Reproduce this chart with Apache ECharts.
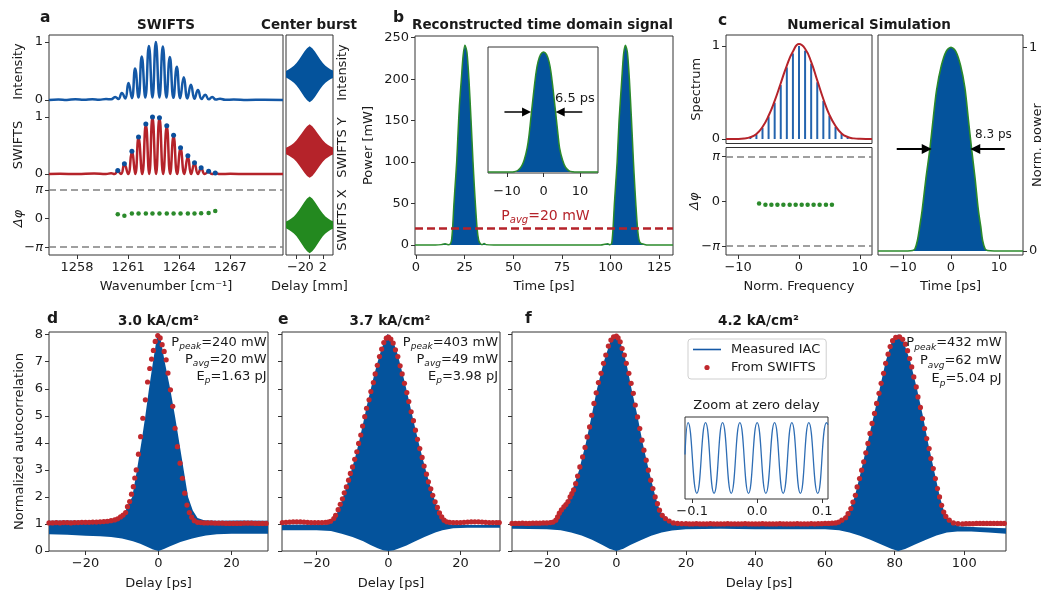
<!DOCTYPE html>
<html><head><meta charset="utf-8">
<script src="https://cdn.jsdelivr.net/npm/echarts@6/dist/echarts.min.js"></script>
<style>html,body{margin:0;padding:0;background:#fff}#c{width:1041px;height:591px}</style>
</head><body><div id="c"></div>
<script>
// ================= DATA =================
// Panel a : SWIFTS spectra (wavenumber cm^-1, normalized value)
const aIntensity = [[1256.35,0],[1256.9,0.006],[1257.4,0],[1257.9,0.01],[1258.4,0.002],[1258.9,0.012],[1259.3,0.003],[1259.7,0.015],[1260.0,0.01],[1260.24,0.05],[1260.43,0.015],[1260.63,0.12],[1260.83,0.025],[1261.02,0.29],[1261.22,0.03],[1261.41,0.54],[1261.61,0.04],[1261.80,0.75],[1262.01,0.04],[1262.22,0.93],[1262.43,0.04],[1262.63,1.0],[1262.84,0.04],[1263.04,0.92],[1263.25,0.04],[1263.45,0.74],[1263.66,0.035],[1263.86,0.57],[1264.06,0.03],[1264.27,0.39],[1264.48,0.025],[1264.69,0.26],[1264.90,0.02],[1265.10,0.17],[1265.32,0.015],[1265.53,0.09],[1265.74,0.01],[1265.94,0.05],[1266.15,0.005],[1266.4,0.02],[1266.7,0.003],[1267.2,0.006],[1268.0,0],[1269.0,0.004],[1270.1,0]];
const aSwifts = [[1256.35,0],[1257,0.005],[1258,0],[1259,0.01],[1259.7,0],[1260.0,0.015],[1260.2,0],[1260.39,0.05],[1260.58,0],[1260.78,0.17],[1261.0,0],[1261.22,0.39],[1261.42,0],[1261.61,0.64],[1261.83,0],[1262.04,0.87],[1262.24,0],[1262.43,1.0],[1262.64,0],[1262.84,0.99],[1263.06,0],[1263.27,0.84],[1263.47,0],[1263.67,0.67],[1263.88,0],[1264.08,0.45],[1264.3,0],[1264.51,0.31],[1264.7,0],[1264.90,0.19],[1265.1,0],[1265.29,0.10],[1265.5,0],[1265.73,0.04],[1265.92,0],[1266.12,0.015],[1266.4,0],[1267,0.005],[1268,0],[1270.1,0]];
const aSwiftsPeaks = [[1260.39,0.06],[1260.78,0.18],[1261.22,0.4],[1261.61,0.65],[1262.04,0.88],[1262.43,1.0],[1262.84,0.99],[1263.27,0.85],[1263.67,0.68],[1264.08,0.46],[1264.51,0.32],[1264.90,0.2],[1265.29,0.11],[1265.73,0.05],[1266.12,0.02]];
const aPhase = [[1260.39,0.46],[1260.78,0.29],[1261.22,0.54],[1261.61,0.54],[1262.04,0.54],[1262.43,0.54],[1262.84,0.54],[1263.27,0.54],[1263.67,0.54],[1264.08,0.54],[1264.51,0.54],[1264.90,0.55],[1265.29,0.57],[1265.73,0.61],[1266.12,0.82]];
const aWnTicks = [1258, 1261, 1264, 1267];
// Center burst envelope (delay mm, half amplitude)
const burstEnv = [[-3.6,0.12],[-3.2,0.17],[-2.8,0.23],[-2.4,0.3],[-2.0,0.4],[-1.6,0.53],[-1.2,0.67],[-0.8,0.81],[-0.4,0.93],[0,1.0],[0.4,0.93],[0.8,0.81],[1.2,0.67],[1.6,0.53],[2.0,0.4],[2.4,0.3],[2.8,0.23],[3.2,0.17],[3.55,0.13]];
const burstTicks = [-2, 0, 2];
const burstOuterLabels = [-2, 2];
const burstCenterLabel = [0];
// Panel b : reconstructed pulses (ps, mW)
const bPulse = [[-0.5,0],[10,0],[13,0.5],[15,1.5],[16.5,0.5],[17.5,1],[18.2,5],[18.8,20],[19.5,50],[20.2,75],[20.9,100],[21.6,135],[22.3,168],[23.3,200],[24.2,228],[25.2,241],[26.2,232],[27.2,200],[28.3,150],[29.3,100],[30.0,70],[30.5,50],[31.4,20],[32.2,6],[33,2],[34,0.5],[35,2],[36,0.5],[40,0],[95,0],[97,1],[98.5,1.5],[99.5,0.5],[100.5,2],[101.2,20],[101.9,50],[102.6,75],[103.3,100],[104.3,150],[105.7,200],[106.6,230],[107.6,241],[108.6,232],[109.6,200],[110.7,150],[111.7,100],[112.4,70],[112.9,50],[113.8,20],[114.6,6],[115.5,2],[117,1],[119,0],[132,0]];
const bAverage = 20;
const bInset = [[-15.2,0],[-9,0],[-8,0.003],[-7,0.015],[-6,0.05],[-5.3,0.1],[-4.5,0.2],[-4,0.3],[-3.3,0.5],[-2.5,0.72],[-2,0.84],[-1.5,0.92],[-0.8,0.98],[0,1.0],[0.8,0.98],[1.5,0.92],[2,0.84],[2.5,0.72],[3,0.58],[3.3,0.5],[4,0.3],[4.4,0.2],[5.2,0.1],[6,0.04],[7,0.01],[8,0.002],[9,0],[14.9,0]];
const bTimeTicks = [0, 25, 50, 75, 100, 125];
const bPowerTicks = [0, 50, 100, 150, 200, 250];
const insetTicks = [-10, 0, 10];
// Panel c : numerical simulation
const cSpectrum = [[-12,0],[-10,0.001],[-9,0.006],[-8,0.02],[-7,0.055],[-6,0.13],[-5,0.25],[-4,0.41],[-3,0.6],[-2,0.79],[-1,0.94],[0,1.02],[1,0.97],[2,0.83],[3,0.63],[4,0.43],[5,0.26],[6,0.14],[7,0.06],[8,0.022],[9,0.007],[10,0.002],[12,0]];
const cModes = [[-8,0.02],[-7,0.05],[-6,0.12],[-5,0.24],[-4,0.39],[-3,0.58],[-2,0.77],[-1,0.92],[0,1.0],[1,0.95],[2,0.81],[3,0.61],[4,0.41],[5,0.25],[6,0.13],[7,0.055],[8,0.02]];
const cPhase = [[-6.56,-0.15],[-5.52,-0.25],[-4.54,-0.25],[-3.55,-0.25],[-2.57,-0.25],[-1.53,-0.25],[-0.55,-0.25],[0.44,-0.25],[1.42,-0.25],[2.4,-0.25],[3.39,-0.25],[4.43,-0.25],[5.41,-0.25]];
const cPulse = [[-15.2,0],[-9,0],[-8,0.002],[-7.5,0.01],[-7,0.05],[-6.5,0.12],[-6,0.2],[-5.2,0.36],[-4.4,0.5],[-3.7,0.65],[-3,0.79],[-2,0.91],[-1,0.98],[0,1],[1,0.98],[2,0.91],[2.9,0.8],[3.6,0.65],[4.3,0.5],[5.0,0.36],[5.7,0.2],[6.2,0.12],[6.6,0.05],[7.1,0.01],[7.6,0.002],[9,0],[15,0]];
const cTicks = [-10, 0, 10];
const unitTicks = [0, 1];
const phaseTicks = [-Math.PI, 0, Math.PI];
// Panels d, e, f : interferometric autocorrelation (ps, normalized)
const acTicks = [0, 1, 2, 3, 4, 5, 6, 7, 8];
const deTicks = [-20, 0, 20];
const fTicks = [-20, 0, 20, 40, 60, 80, 100];
const zoomTicks = [-0.1, 0, 0.1];
const dUpper = [[-30,1.12],[-25,1.13],[-20,1.12],[-16,1.14],[-13,1.17],[-11,1.22],[-10,1.3],[-9,1.5],[-8.2,1.75],[-7.2,2.0],[-5.9,3.0],[-4.7,4.0],[-3.6,5.0],[-2.6,6.0],[-1.5,7.0],[-0.45,7.9],[0,8.06],[0.5,7.9],[1.7,7.0],[3.2,6.0],[4.5,5.0],[5.7,4.0],[6.9,3.0],[8.1,2.0],[9.4,1.5],[10.7,1.22],[12.5,1.14],[16,1.12],[22,1.13],[30,1.12]];
const dLower = [[-30,0.62],[-25,0.6],[-20,0.56],[-16,0.55],[-13,0.52],[-10,0.46],[-7,0.36],[-5,0.27],[-3,0.15],[-1.5,0.06],[0,0],[1.5,0.07],[3,0.17],[6,0.33],[9,0.45],[11,0.52],[13,0.57],[16,0.62],[20,0.64],[25,0.64],[30,0.64]];
const dSwifts = [[-30,1.04],[-29,1.04],[-28,1.05],[-27,1.04],[-26,1.05],[-25,1.05],[-24,1.04],[-23,1.05],[-22,1.05],[-21,1.06],[-20,1.06],[-19,1.06],[-18,1.07],[-17,1.07],[-16,1.08],[-15,1.09],[-14,1.1],[-13,1.12],[-12,1.15],[-11.2,1.19],[-10.4,1.26],[-9.7,1.33],[-9.0,1.42],[-8.5,1.64],[-7.9,1.83],[-7.4,2.1],[-6.9,2.38],[-6.5,2.7],[-6.1,3.0],[-5.5,3.58],[-4.9,4.23],[-4.3,4.91],[-3.6,5.59],[-3.0,6.25],[-2.4,6.75],[-1.9,7.1],[-1.4,7.42],[-0.9,7.75],[-0.2,7.97],[0.46,7.88],[1.0,7.63],[1.55,7.38],[2.1,7.07],[2.6,6.58],[3.27,5.96],[3.9,5.35],[4.54,4.54],[5.18,3.86],[5.9,3.25],[6.54,2.69],[7.17,2.14],[7.8,1.7],[8.45,1.42],[9.1,1.25],[9.8,1.12],[10.7,1.06],[11.6,1.05],[12.5,1.04],[13.5,1.04],[14.5,1.04],[15.5,1.03],[16.5,1.03],[17.5,1.03],[18.5,1.02],[19.5,1.02],[20.5,1.02],[21.5,1.02],[22.5,1.02],[23.5,1.03],[24.5,1.03],[25.5,1.03],[26.5,1.02],[27.5,1.02],[28.5,1.02],[29.5,1.02]];
const eUpper = [[-29.6,0.97],[-20,0.98],[-17,0.99],[-16,1.05],[-15,1.2],[-14,1.5],[-13,1.85],[-12,2.25],[-11,2.68],[-10,3.12],[-9,3.6],[-8,4.15],[-7,4.75],[-6,5.38],[-5,5.95],[-4,6.5],[-3,7.0],[-2,7.45],[-1,7.8],[-0.3,8.03],[0.5,7.95],[1.5,7.68],[2.5,7.3],[3.5,6.78],[4.5,6.25],[5.5,5.68],[6.5,5.08],[7.5,4.5],[8.5,3.95],[9.5,3.42],[10.5,2.92],[11.5,2.45],[12.5,2.02],[13.5,1.65],[14.5,1.35],[15.5,1.13],[16.5,1.0],[18,0.97],[25,0.96],[31,0.96]];
const eLower = [[-29.6,0.77],[-20,0.77],[-16,0.74],[-13,0.64],[-10,0.52],[-7,0.36],[-5,0.22],[-3,0.1],[-1.5,0.03],[0,0],[1.5,0.03],[3,0.1],[5,0.2],[7,0.33],[10,0.52],[13,0.68],[15,0.77],[18,0.84],[22,0.86],[31,0.86]];
const eSwifts = [[-29.5,1.05],[-28.5,1.06],[-27.5,1.07],[-26.5,1.08],[-25.5,1.08],[-24.5,1.08],[-23.5,1.07],[-22.5,1.06],[-21.5,1.05],[-20.5,1.05],[-19.5,1.05],[-18.5,1.05],[-17.5,1.06],[-16.8,1.07],[-16.1,1.1],[-15.2,1.2],[-14.7,1.32],[-14.0,1.53],[-13.4,1.73],[-12.8,1.93],[-12.3,2.15],[-11.7,2.37],[-11.1,2.62],[-10.6,2.87],[-10.0,3.11],[-9.4,3.39],[-8.8,3.67],[-8.3,3.98],[-7.7,4.29],[-7.2,4.62],[-6.6,4.97],[-6.1,5.28],[-5.4,5.59],[-4.9,5.9],[-4.2,6.23],[-3.7,6.55],[-3.1,6.87],[-2.5,7.19],[-1.9,7.47],[-1.3,7.71],[-0.6,7.87],[0,7.91],[0.65,7.84],[1.3,7.69],[1.94,7.44],[2.6,7.19],[3.24,6.85],[3.8,6.55],[4.44,6.2],[5.1,5.86],[5.65,5.53],[6.3,5.15],[6.94,4.82],[7.5,4.47],[8.06,4.13],[8.7,3.79],[9.35,3.46],[9.9,3.14],[10.56,2.84],[11.1,2.56],[11.76,2.3],[12.3,2.06],[12.96,1.82],[13.6,1.61],[14.17,1.41],[14.8,1.26],[15.46,1.14],[16.2,1.08],[17,1.06],[18,1.05],[19,1.05],[20,1.05],[21,1.06],[22,1.07],[23,1.08],[24,1.08],[25,1.08],[26,1.07],[27,1.06],[28,1.05],[29,1.05],[30,1.05],[30.8,1.05]];
const fUpper = [[-30,0.98],[-24,0.99],[-19,1.0],[-17.5,1.1],[-16,1.45],[-14.8,1.68],[-13.3,2.0],[-10.7,3.0],[-8.75,4.0],[-7.1,5.0],[-5.55,6.0],[-3.6,7.0],[-1.6,7.8],[-0.2,8.02],[1.0,7.8],[2.8,7.0],[4.35,6.0],[6.05,5.0],[7.55,4.0],[9.3,3.0],[11.25,2.0],[12.5,1.5],[14.2,1.2],[16,1.02],[18,0.97],[30,0.96],[45,0.96],[60,0.96],[63.5,0.99],[64.8,1.14],[66.9,1.5],[68.5,2.0],[70.4,3.0],[72.2,4.0],[74.0,5.0],[75.7,6.0],[77.4,7.0],[79.3,7.8],[81,8.02],[82.4,7.8],[84.5,7.0],[86.4,6.0],[88.1,5.0],[89.6,4.0],[91.3,3.0],[93.0,2.0],[94.1,1.5],[95.3,1.2],[96.9,1.0],[98.5,0.92],[104,0.88],[112,0.84]];
const fLower = [[-30,0.82],[-20,0.8],[-16,0.77],[-13,0.68],[-10,0.57],[-7,0.42],[-4,0.22],[-2,0.08],[0,0],[2,0.08],[4,0.22],[7,0.4],[10,0.56],[13,0.68],[16,0.76],[20,0.8],[30,0.82],[40,0.8],[50,0.8],[60,0.8],[64,0.77],[67,0.68],[70,0.56],[73,0.42],[76,0.25],[79,0.08],[81,0],[83,0.07],[86,0.25],[89,0.42],[92,0.57],[95,0.68],[98,0.72],[102,0.72],[107,0.68],[112,0.64]];
const fSwifts = [[-30,1.02],[-29,1.02],[-28,1.02],[-27,1.03],[-26,1.02],[-25,1.02],[-24,1.03],[-23,1.03],[-22,1.03],[-21,1.04],[-20,1.04],[-19,1.05],[-18.2,1.07],[-17.4,1.14],[-16.9,1.26],[-16.4,1.4],[-15.8,1.52],[-15.1,1.63],[-14.5,1.72],[-13.9,1.83],[-13.3,2.0],[-12.8,2.12],[-12.3,2.26],[-11.7,2.49],[-11.15,2.77],[-10.5,3.11],[-9.7,3.48],[-9.0,3.83],[-8.4,4.22],[-7.7,4.59],[-7.1,5.02],[-6.45,5.46],[-5.8,5.85],[-5.16,6.23],[-4.4,6.57],[-3.7,6.94],[-3.04,7.25],[-2.3,7.58],[-1.57,7.8],[-0.8,7.92],[0,7.95],[0.5,7.88],[1.1,7.74],[1.66,7.49],[2.3,7.25],[2.86,6.94],[3.6,6.57],[4.24,6.2],[4.88,5.83],[5.44,5.4],[6.08,4.96],[6.73,4.53],[7.37,4.1],[7.93,3.73],[8.57,3.36],[9.2,2.99],[9.86,2.62],[10.5,2.31],[11.15,2.0],[11.8,1.75],[12.4,1.51],[13.2,1.32],[14.1,1.2],[15.2,1.11],[16.4,1.04],[17.6,1.02],[18.8,1.01],[20,1.01],[21,1.0],[22,1.0],[23,1.01],[24,1.0],[25,1.0],[26,1.0],[27,1.01],[28,1.0],[29,1.0],[30,1.0],[31,1.0],[32,1.01],[33,1.0],[34,1.0],[35,1.0],[36,1.0],[37,1.01],[38,1.0],[39,1.0],[40,1.0],[41,1.0],[42,1.01],[43,1.0],[44,1.0],[45,1.0],[46,1.0],[47,1.01],[48,1.0],[49,1.0],[50,1.0],[51,1.0],[52,1.01],[53,1.0],[54,1.0],[55,1.0],[56,1.01],[57,1.0],[58,1.01],[59,1.01],[60,1.02],[61,1.02],[62,1.03],[63,1.04],[63.9,1.07],[64.8,1.14],[65.9,1.23],[66.6,1.38],[67.4,1.57],[68.0,1.81],[68.7,2.06],[69.2,2.37],[69.9,2.68],[70.5,2.99],[71.1,3.3],[71.7,3.63],[72.3,3.98],[72.9,4.35],[73.5,4.72],[74.2,5.09],[74.8,5.46],[75.5,5.83],[76.1,6.2],[76.8,6.57],[77.4,6.94],[78.1,7.28],[78.7,7.56],[79.4,7.78],[80.3,7.9],[81.4,7.92],[82.3,7.83],[83.1,7.65],[83.7,7.41],[84.3,7.12],[84.9,6.81],[85.5,6.44],[86.2,6.07],[86.7,5.7],[87.4,5.31],[88.0,4.9],[88.6,4.53],[89.2,4.16],[89.9,3.79],[90.4,3.42],[91.1,3.05],[91.7,2.68],[92.3,2.31],[92.9,2.0],[93.5,1.69],[94.1,1.44],[94.7,1.28],[95.7,1.14],[96.9,1.04],[98.2,1.01],[99.5,1.0],[100.5,1.01],[101.5,1.01],[102.5,1.01],[103.5,1.02],[104.5,1.02],[105.5,1.02],[106.5,1.02],[107.5,1.02],[108.5,1.02],[109.5,1.02],[110.5,1.02],[111.5,1.02]];
const fZoom = [[-0.111,0.55],[-0.1062,1],[-0.0928,0],[-0.0794,1],[-0.0663,0],[-0.0532,1],[-0.0399,0],[-0.0266,1],[-0.0133,0],[0,1],[0.0134,0],[0.0268,1],[0.0401,0],[0.0534,1],[0.0665,0],[0.0795,1],[0.0932,0],[0.1068,1],[0.109,0.97]];

// ================= STYLE =================
const FONT = 'DejaVu Sans';
const INK = '#1a1a1a';
const FRAME = '#333333';
const BLUE = '#04539c';
const LINEBLUE = '#1458a6';
const STEMBLUE = '#2464ae';
const RED = '#b5232a';
const DOTRED = '#c0282d';
const GREEN = '#2b8a2b';
const GRAY = '#808080';

const fmtNum = v => String(Math.round(v * 1000) / 1000).replace('-', '\u2212');
const fmtPi = v => Math.abs(v) < 1e-9 ? '0' : (v < 0 ? '\u2212{i|\u03c0}' : '{i|\u03c0}');
const fmt1 = v => v.toFixed(1).replace('-', '\u2212');

const grids = [], xAxes = [], yAxes = [], series = [];

function mkAxis(gi, o) {
  if (o.hidden) return {type: 'value', gridIndex: gi, show: false, min: o.min, max: o.max, axisLine: {onZero: false}};
  const labelVals = o.labelValues || o.ticks;
  const ax = {
    type: 'value', gridIndex: gi, min: o.min, max: o.max, position: o.pos,
    axisLine: {show: false, onZero: false},
    splitLine: {show: false}, splitArea: {show: false},
    axisTick: (o.ticks && o.tickShow !== false) ? {show: true, inside: false, length: 4, lineStyle: {color: FRAME, width: 1}, customValues: o.ticks} : {show: false},
    axisLabel: (labelVals && o.labels !== false) ? {show: true, customValues: labelVals, hideOverlap: false, showMinLabel: true, showMaxLabel: true, margin: o.margin != null ? o.margin : 6, color: INK, fontFamily: FONT, fontSize: 13, formatter: o.fmt || fmtNum, rich: {i: {fontStyle: 'italic', fontFamily: FONT, fontSize: 13, color: INK}}} : {show: false},
    nameMoveOverlap: false
  };
  if (o.name) {
    ax.name = o.name; ax.nameLocation = 'middle'; ax.nameGap = o.gap;
    ax.nameTextStyle = {color: INK, fontFamily: FONT, fontSize: 13, fontStyle: o.italic ? 'italic' : 'normal'};
  }
  return ax;
}
function addGrid(rect, xo, yo, extra) {
  const i = grids.length;
  grids.push(Object.assign({left: rect[0], top: rect[1], width: rect[2], height: rect[3], show: true, borderColor: FRAME, borderWidth: 1, backgroundColor: 'transparent', containLabel: false, outerBoundsMode: 'none'}, extra || {}));
  xAxes.push(mkAxis(i, xo));
  yAxes.push(mkAxis(i, yo));
  return i;
}
const noBorder = {show: false};
const plainML = (data, ls) => ({silent: true, symbol: ['none', 'none'], label: {show: false}, animation: false, emphasis: {disabled: true}, lineStyle: ls, data});
const piLines = () => plainML([{yAxis: Math.PI}, {yAxis: -Math.PI}], {color: GRAY, width: 1.5, type: [7, 4]});
function arrows(data, width, size) {
  return {silent: true, symbol: ['none', 'triangle'], symbolSize: size, label: {show: false}, animation: false, emphasis: {disabled: true}, lineStyle: {color: '#000', width, type: 'solid'}, data};
}
function line(gi, data, o) {
  const s = {type: 'line', xAxisIndex: gi, yAxisIndex: gi, data, showSymbol: false, symbol: 'none', smooth: o.smooth || false, lineStyle: {color: o.color, width: o.width}, silent: true, z: o.z || 3, clip: true};
  if (o.fill) s.areaStyle = {color: o.fill, opacity: 1};
  if (o.markLine) s.markLine = o.markLine;
  if (o.name) s.name = o.name;
  series.push(s);
}
function dots(gi, data, color, size, o) {
  const s = {type: 'scatter', xAxisIndex: gi, yAxisIndex: gi, data, symbol: 'circle', symbolSize: size, itemStyle: {color, opacity: 1}, silent: true, z: 5, clip: true};
  o = o || {};
  if (o.markLine) s.markLine = o.markLine;
  if (o.name) s.name = o.name;
  series.push(s);
}
function band(gi, upper, lower, color, name) {
  const s = {type: 'custom', xAxisIndex: gi, yAxisIndex: gi, clip: true, silent: true, z: 2,
    data: [[upper[Math.floor(upper.length / 2)][0], 0.5]],
    renderItem: (p, api) => {
      const pts = upper.map(d => api.coord(d)).concat(lower.slice().reverse().map(d => api.coord(d)));
      return {type: 'polygon', shape: {points: pts}, style: {fill: color}};
    }};
  if (name) s.name = name;
  series.push(s);
}

// ---------- panel a ----------
const gAi = addGrid([49, 35, 234, 73], {hidden: true, min: 1256.35, max: 1270.1}, {min: -0.14, max: 1.12, ticks: unitTicks, name: 'Intensity', gap: 24}, noBorder);
const gAs = addGrid([49, 108, 234, 74], {hidden: true, min: 1256.35, max: 1270.1}, {min: -0.14, max: 1.16, ticks: unitTicks, name: 'SWIFTS', gap: 24}, noBorder);
const gAp = addGrid([49, 182, 234, 73], {min: 1256.35, max: 1270.1, ticks: aWnTicks, name: 'Wavenumber [cm\u207b\u00b9]', gap: 25}, {min: -4, max: 4, ticks: phaseTicks, fmt: fmtPi, name: '\u0394\u03c6', italic: true, gap: 24}, noBorder);
addGrid([49, 35, 234, 220], {hidden: true, min: 0, max: 1}, {hidden: true, min: 0, max: 1});
line(gAi, aIntensity, {color: LINEBLUE, width: 2.5, smooth: 0.5});
line(gAs, aSwifts, {color: RED, width: 2.5, smooth: 0.5});
dots(gAs, aSwiftsPeaks, '#0b4f9c', 5);
dots(gAp, aPhase, GREEN, 4.5, {markLine: piLines()});

// ---------- center burst ----------
const negEnv = burstEnv.map(d => [d[0], -d[1]]);
const gC0 = addGrid([286, 35, 47, 75], {hidden: true, min: -3.6, max: 3.55}, {min: -1.275, max: 1.40, pos: 'right', name: 'Intensity', gap: 3}, noBorder);
const gC1 = addGrid([286, 110, 47, 75], {hidden: true, min: -3.6, max: 3.55}, {min: -1.27, max: 1.535, pos: 'right', name: 'SWIFTS Y', gap: 3}, noBorder);
const gC2 = addGrid([286, 185, 47, 70], {min: -3.6, max: 3.55, ticks: burstTicks, labelValues: burstOuterLabels, name: 'Delay [mm]', gap: 25}, {min: -1.06, max: 1.41, pos: 'right', name: 'SWIFTS X', gap: 3}, noBorder);
addGrid([286, 35, 47, 220], {hidden: true, min: 0, max: 1}, {hidden: true, min: 0, max: 1});
band(gC0, burstEnv, negEnv, BLUE);
band(gC1, burstEnv, negEnv, RED);
band(gC2, burstEnv, negEnv, '#23891f');

// ---------- panel b ----------
const gB = addGrid([415, 36, 258, 219], {min: -0.5, max: 132, ticks: bTimeTicks, name: 'Time [ps]', gap: 25}, {min: -12, max: 252, ticks: bPowerTicks, name: 'Power [mW]', gap: 40});
line(gB, bPulse, {color: GREEN, width: 1.5, fill: BLUE, smooth: 0.25, markLine: plainML([{yAxis: bAverage}], {color: RED, width: 2.5, type: [8, 4]})});
const gBi = addGrid([488, 47, 110, 126], {min: -15.2, max: 14.9, ticks: insetTicks, margin: 12}, {hidden: true, min: -0.008, max: 1.042}, {backgroundColor: '#fff'});
line(gBi, bInset, {color: GREEN, width: 1.5, fill: BLUE, smooth: 0.3, markLine: arrows([[{coord: [-10.7, 0.5]}, {coord: [-4.65, 0.5]}], [{coord: [10.6, 0.5]}, {coord: [4.55, 0.5]}]], 1.5, 9)});

// ---------- panel c ----------
const gCs = addGrid([726, 35, 146, 108.5], {hidden: true, min: -12, max: 12}, {min: -0.048, max: 1.118, ticks: unitTicks, name: 'Spectrum', gap: 23});
series.push({type: 'bar', xAxisIndex: gCs, yAxisIndex: gCs, data: cModes, barWidth: 2, itemStyle: {color: STEMBLUE}, silent: true, z: 2});
line(gCs, cSpectrum, {color: RED, width: 2, smooth: 0.5, z: 4});
const gCp = addGrid([726, 147.5, 146, 107.5], {min: -12, max: 12, ticks: cTicks, name: 'Norm. Frequency', gap: 25}, {min: -3.76, max: 3.76, ticks: phaseTicks, fmt: fmtPi, name: '\u0394\u03c6', italic: true, gap: 25});
dots(gCp, cPhase, GREEN, 4.5, {markLine: piLines()});
const gCt = addGrid([878, 35, 145, 220], {min: -15.2, max: 15, ticks: cTicks, name: 'Time [ps]', gap: 25}, {min: -0.02, max: 1.06, ticks: unitTicks, pos: 'right', name: 'Norm. power', gap: 8});
line(gCt, cPulse, {color: GREEN, width: 1.6, fill: BLUE, smooth: 0.3, markLine: arrows([[{coord: [-11.3, 0.5]}, {coord: [-5.05, 0.5]}], [{coord: [11.2, 0.5]}, {coord: [5.05, 0.5]}]], 2, 10)});

// ---------- panels d, e, f ----------
const gD = addGrid([49, 332, 219, 219], {min: -30, max: 30, ticks: deTicks, name: 'Delay [ps]', gap: 26}, {min: 0, max: 8.1, ticks: acTicks, name: 'Normalized autocorrelation', gap: 23});
band(gD, dUpper, dLower, BLUE);
dots(gD, dSwifts, DOTRED, 5.2);
const gE = addGrid([282, 332, 218, 219], {min: -29.6, max: 31, ticks: deTicks, name: 'Delay [ps]', gap: 26}, {min: 0, max: 8.1, ticks: acTicks, labels: false});
band(gE, eUpper, eLower, BLUE);
dots(gE, eSwifts, DOTRED, 5.2);
const gF = addGrid([512, 332, 494, 219], {min: -30, max: 112, ticks: fTicks, name: 'Delay [ps]', gap: 26}, {min: 0, max: 8.1, ticks: acTicks, labels: false});
band(gF, fUpper, fLower, BLUE, 'Measured IAC');
dots(gF, fSwifts, DOTRED, 5.2, {name: 'From SWIFTS'});
const gFi = addGrid([685, 417, 143, 82], {min: -0.111, max: 0.109, ticks: zoomTicks, fmt: fmt1}, {hidden: true, min: -0.08, max: 1.08}, {backgroundColor: '#fff'});
line(gFi, fZoom, {color: '#2e6db4', width: 1.3, smooth: 0.5});

// extra x axis carrying only the centre "0" label of the centre-burst delay axis
xAxes.push(Object.assign(mkAxis(gC2, {min: -3.6, max: 3.55, ticks: burstTicks, labelValues: burstCenterLabel, tickShow: false}), {position: 'bottom'}));

// ---------- texts ----------
function txt(text, x, y, o) {
  o = o || {};
  const font = (o.italic ? 'italic ' : '') + (o.bold ? 'bold ' : '') + (o.size || 13) + 'px "' + FONT + '"';
  const st = {text, font, fill: o.color || INK, textAlign: o.align || 'left', align: o.align || 'left', textVerticalAlign: o.va || 'middle', verticalAlign: o.va || 'middle'};
  if (o.rich) st.rich = o.rich;
  return {type: 'text', x, y, silent: true, z: 100, style: st};
}
const richP = (color, size, sub, lh) => ({
  n: {font: size + 'px "' + FONT + '"', fill: color, lineHeight: lh},
  s: {font: 'italic ' + sub + 'px "' + FONT + '"', fill: color, lineHeight: sub, verticalAlign: 'bottom'}
});
const pText = (pk, av, ep) => '{n|P}{s|peak}{n|=' + pk + '}\n{n|P}{s|avg}{n|=' + av + '}\n{n|E}{s|p}{n|=' + ep + '}';
const graphics = [
  txt('a', 40, 18, {bold: true, size: 15.5}),
  txt('b', 393, 18, {bold: true, size: 15.5}),
  txt('c', 718, 21, {bold: true, size: 15.5}),
  txt('d', 47, 318.5, {bold: true, size: 15.5}),
  txt('e', 278, 319.5, {bold: true, size: 15.5}),
  txt('f', 525, 318.5, {bold: true, size: 15.5}),
  txt('SWIFTS', 166, 25, {bold: true, size: 13.5, align: 'center'}),
  txt('Center burst', 309, 25, {bold: true, size: 13.5, align: 'center'}),
  txt('Reconstructed time domain signal', 542.5, 25, {bold: true, size: 13.5, align: 'center'}),
  txt('Numerical Simulation', 869, 25, {bold: true, size: 13.5, align: 'center'}),
  txt('3.0 kA/cm\u00b2', 158.5, 321.5, {bold: true, size: 13.5, align: 'center'}),
  txt('3.7 kA/cm\u00b2', 390, 321.5, {bold: true, size: 13.5, align: 'center'}),
  txt('4.2 kA/cm\u00b2', 758.5, 321.5, {bold: true, size: 13.5, align: 'center'}),
  txt(pText('240 mW', '20 mW', '1.63 pJ'), 266.5, 334, {align: 'right', va: 'top', rich: richP(INK, 13, 9, 17)}),
  txt(pText('403 mW', '49 mW', '3.98 pJ'), 498, 334, {align: 'right', va: 'top', rich: richP(INK, 13, 9, 17)}),
  txt(pText('432 mW', '62 mW', '5.04 pJ'), 1001.5, 334, {align: 'right', va: 'top', rich: richP(INK, 13, 9, 18)}),
  txt('{n|P}{s|avg}{n|=20 mW}', 545.5, 216.5, {align: 'center', rich: richP(RED, 14, 10, 18)}),
  txt('6.5 ps', 555, 99, {size: 13}),
  txt('8.3 ps', 975, 135, {size: 12}),
  txt('Zoom at zero delay', 756.5, 406, {size: 13, align: 'center'})
];

const LINE_ICON = 'path://M-19,-4M19,4M-14,-0.8H14V0.8H-14Z';
const DOT_ICON = 'path://M-19,-4M19,4M0,-2.6A2.6,2.6,0,1,1,0,2.6A2.6,2.6,0,1,1,0,-2.6Z';

const chart = echarts.init(document.getElementById('c'), null, {renderer: 'canvas', width: 1041, height: 591});
chart.setOption({
  animation: false,
  backgroundColor: '#fff',
  textStyle: {fontFamily: FONT},
  grid: grids, xAxis: xAxes, yAxis: yAxes, series,
  legend: [{
    show: true, left: 688, top: 339, orient: 'vertical', itemWidth: 38, itemHeight: 8, itemGap: 5,
    padding: [4, 6, 5, 0], backgroundColor: '#fff', borderColor: '#cfcfcf', borderWidth: 1, borderRadius: 3,
    selectedMode: false, textStyle: {fontFamily: FONT, fontSize: 13, color: INK},
    data: [
      {name: 'Measured IAC', icon: LINE_ICON, itemStyle: {color: LINEBLUE, borderWidth: 0}},
      {name: 'From SWIFTS', icon: DOT_ICON, itemStyle: {color: DOTRED, borderWidth: 0}}
    ]
  }],
  graphic: graphics
});
</script></body></html>
